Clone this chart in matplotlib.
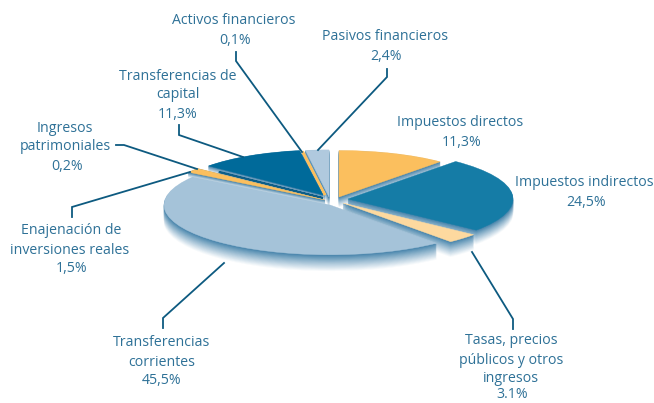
import matplotlib
matplotlib.use("Agg")
import matplotlib.pyplot as plt
from matplotlib.colors import to_rgb

# Data, clockwise from the top
categories = ["Impuestos directos", "Impuestos indirectos", "Tasas, precios públicos y otros ingresos",
              "Transferencias corrientes", "Enajenación de inversiones reales", "Ingresos patrimoniales",
              "Transferencias de capital", "Activos financieros", "Pasivos financieros"]
values = [11.3, 24.5, 3.1, 45.5, 1.5, 0.2, 11.3, 0.1, 2.4]
colors = ["#fbbf5e", "#157ca6", "#fdd99f", "#a5c3d9", "#fbbf5e", "#0d5e88", "#006a9a", "#fbbf5e", "#b0c9de"]

# Layout (pixels): exploded centre, radius, side depth, stacking order, face outline
centers = [(339, 197), (348, 199), (343, 203), (330, 205), (325, 200), (323, 198), (323, 195), (325, 195), (329, 197)]
radii = [155, 165, 168, 166, 165, 135, 150, 145, 157]
depths = [10, 14, 15, 16, 5, 3, 6, 8, 10]
stack = [5, 6, 7, 8, 4, 3, 2, 1, 0]
face_lw = [0.3, 0.3, 0.3, 0.3, 0.3, 1.2, 0.3, 1.6, 0.3]

labels = [
    ("Activos financieros", 234, 21), ("0,1%", 235, 40),
    ("Transferencias de", 178, 76), ("capital", 178, 95), ("11,3%", 178, 114),
    ("Ingresos", 65, 128), ("patrimoniales", 65, 147), ("0,2%", 67, 166),
    ("Pasivos financieros", 385, 37), ("2,4%", 386, 56),
    ("Impuestos directos", 460, 122), ("11,3%", 462, 142),
    ("Impuestos indirectos", 584, 183), ("24,5%", 586, 202),
    ("Enajenación de", 71, 231), ("inversiones reales", 70, 250), ("1,5%", 72, 269),
    ("Transferencias", 162, 343), ("corrientes", 162, 362), ("45,5%", 162, 380),
    ("Tasas, precios", 511, 341), ("públicos y otros", 511, 360), ("ingresos", 511, 378), ("3.1%", 512, 394),
]
leaders = [
    [(236, 52), (236, 61), (302, 152)],
    [(387, 69), (387, 77), (318, 150)],
    [(179, 125), (179, 135), (243, 157)],
    [(116, 145), (124, 145), (197, 169)],
    [(72, 217), (72, 207), (190, 172)],
    [(163, 328), (163, 318), (224, 263)],
    [(472, 252), (513, 319), (513, 329)],
]

W, H = 654, 403
YS = 0.3
fig = plt.figure(figsize=(W / 100, H / 100), dpi=100, facecolor="white")
ax = fig.add_axes([0, 0, 1, 1])

side_top = to_rgb("#3f7fa8")
side_end = (0.97, 0.98, 0.99)
N = 18
for k in range(N, -1, -1):
    t = k / N
    wedges, _ = ax.pie(values, startangle=90, counterclock=False, colors=colors)
    for i, w in enumerate(wedges):
        cx, cy = centers[i]
        py = cy + depths[i] * t
        w.set_center((cx, (H - py) / YS))
        w.set_radius(radii[i])
        w.set_zorder(10 + stack[i] * 100 + (N - k))
        if k == 0:
            c = colors[i]
            w.set_linewidth(face_lw[i])
        else:
            c = tuple(a + (b - a) * t ** 0.9 for a, b in zip(side_top, side_end))
            w.set_linewidth(0.3)
        w.set_facecolor(c)
        w.set_edgecolor(c)
ax.set_aspect("auto")
ax.set_xlim(0, W)
ax.set_ylim(0, H / YS)
ax.axis("off")

ov = fig.add_axes([0, 0, 1, 1], facecolor="none")
ov.set_xlim(0, W)
ov.set_ylim(H, 0)
ov.axis("off")
for pts in leaders:
    ov.plot([p[0] for p in pts], [p[1] for p in pts], color="#0d5a80", lw=1.3, solid_joinstyle="miter")
for s, x, y in labels:
    ov.text(x, y, s, ha="center", va="center", color="#2e7197", fontsize=10.2, family="Open Sans")

fig.savefig("out.png", dpi=100)
